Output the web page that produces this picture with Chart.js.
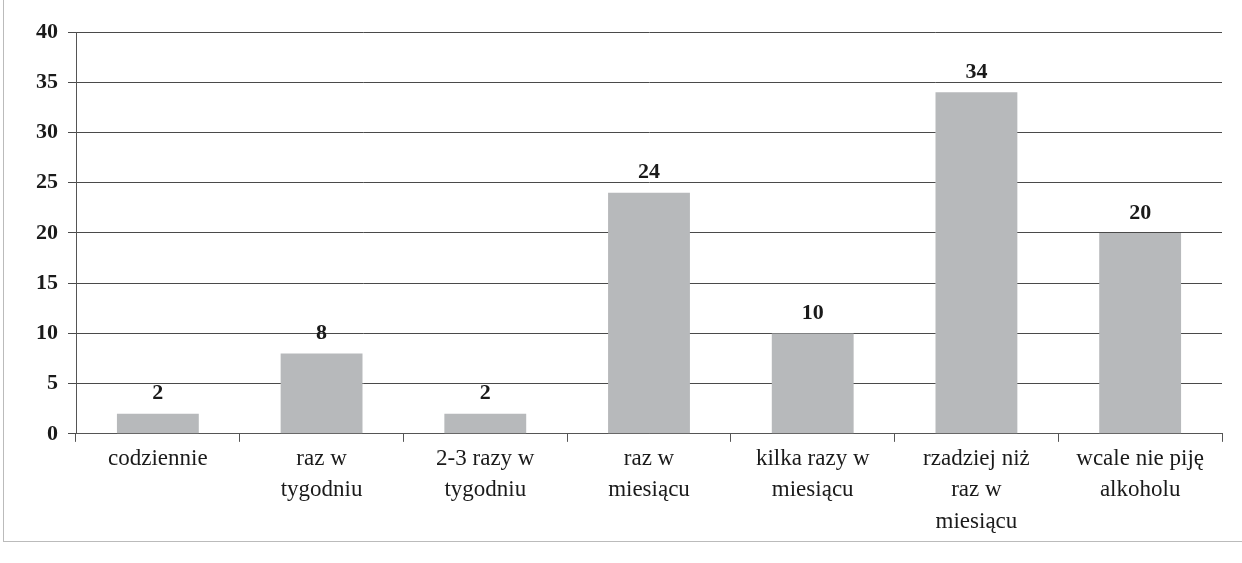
<!DOCTYPE html>
<html>
<head>
  <meta charset="utf-8">
  <title>Częstość picia alkoholu</title>
  <script src="https://cdn.jsdelivr.net/npm/chart.js"></script>
  <style>
    html, body { margin: 0; padding: 0; background: #fff; }
    #wrap { width: 1242px; height: 563px; position: relative; }
    #frame { position: absolute; left: 3px; top: -2px; width: 1250px; height: 543px; border: 1px solid #bbb; border-top: none; border-right: none; }
  </style>
</head>
<body>
  <div id="wrap">
    <div id="frame"></div>
    <canvas id="chart" width="1242" height="563"></canvas>
  </div>
  <script>
    const categories = [
      "codziennie",
      ["raz w", "tygodniu"],
      ["2-3 razy w", "tygodniu"],
      ["raz w", "miesiącu"],
      ["kilka razy w", "miesiącu"],
      ["rzadziej niż", "raz w", "miesiącu"],
      ["wcale nie piję", "alkoholu"]
    ];
    const values = [2, 8, 2, 24, 10, 34, 20];
    const yTicks = [0, 5, 10, 15, 20, 25, 30, 35, 40];

    const serif = "'Liberation Serif', 'Times New Roman', serif";

    // labels above each bar
    const valueLabels = {
      id: "valueLabels",
      afterDatasetsDraw(chart) {
        const ctx = chart.ctx;
        const meta = chart.getDatasetMeta(0);
        ctx.save();
        ctx.font = "bold 22px " + serif;
        ctx.fillStyle = "#1a1a1a";
        ctx.textAlign = "center";
        ctx.textBaseline = "bottom";
        meta.data.forEach((bar, i) => {
          ctx.fillText(String(values[i]), bar.x, bar.y - 9);
        });
        ctx.restore();
      }
    };

    new Chart(document.getElementById("chart"), {
      type: "bar",
      data: {
        labels: categories,
        datasets: [{
          data: values,
          backgroundColor: "#b7b9bb",
          borderWidth: 0,
          barPercentage: 0.5,
          categoryPercentage: 1.0
        }]
      },
      options: {
        responsive: false,
        animation: false,
        layout: { padding: { left: 26, right: 20, top: 32, bottom: 24 } },
        plugins: { legend: { display: false }, tooltip: { enabled: false } },
        scales: {
          x: {
            offset: true,
            grid: { display: true, drawOnChartArea: false, drawTicks: true, tickLength: 8, color: "#555", offset: true },
            border: { color: "#555", width: 1 },
            ticks: { color: "#1a1a1a", font: { family: serif, size: 23, lineHeight: 1.35 }, maxRotation: 0, padding: 2 }
          },
          y: {
            min: 0,
            max: 40,
            afterBuildTicks(axis) { axis.ticks = yTicks.map(v => ({ value: v })); },
            grid: { color: "#4a4a4a", lineWidth: 1, tickLength: 8 },
            border: { color: "#555", width: 1 },
            ticks: { color: "#1a1a1a", font: { family: serif, size: 22, weight: "bold" }, padding: 10 }
          }
        }
      },
      plugins: [valueLabels]
    });
  </script>
</body>
</html>
